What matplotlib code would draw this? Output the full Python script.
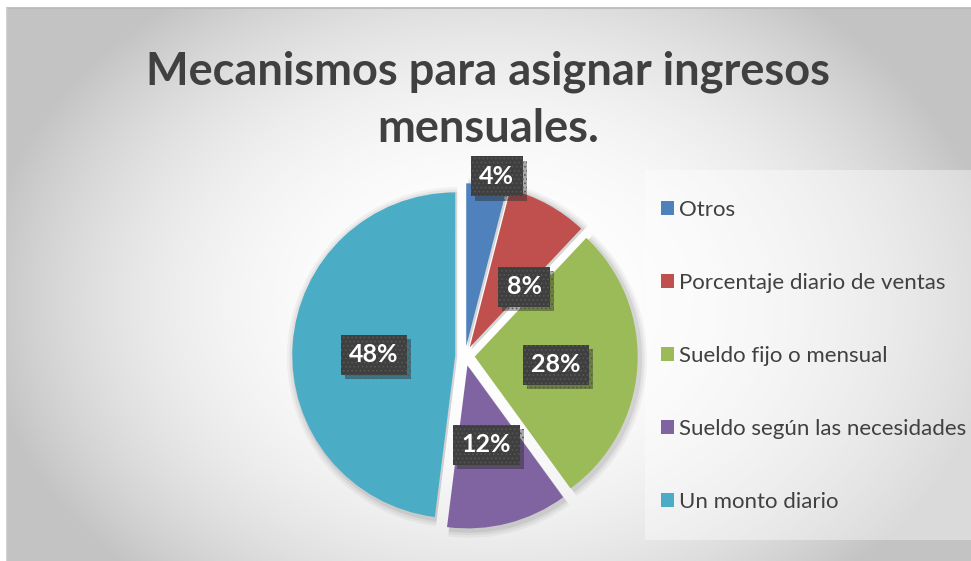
import numpy as np
import matplotlib.pyplot as plt
from matplotlib.patches import Wedge, Rectangle, Patch
import matplotlib.patheffects as pe

plt.rcParams['font.family'] = ['Lato', 'DejaVu Sans']
plt.rcParams['hatch.linewidth'] = 0.7

categorias = ["Otros", "Porcentaje diario de ventas", "Sueldo fijo o mensual",
              "Sueldo según las necesidades", "Un monto diario"]
porcentajes = [4, 8, 28, 12, 48]
colores = ["#4F81BD", "#C0504D", "#9BBB59", "#8064A2", "#4BACC6"]
titulo = "Mecanismos para asignar ingresos\nmensuales."

# donde va cada etiqueta: distancia relativa al radio y giro en grados
dist_etiqueta = [1.06, 0.5, 0.5, 0.5, 0.5]
giro_etiqueta = [-3, -13, -2, -1, 3]

W, H = 971, 561
fig = plt.figure(figsize=(W / 100, H / 100), dpi=100)
fig.patch.set_facecolor("white")

# fondo con degradado desde el centro
bg = fig.add_axes([0, 0, 1, 1])
bg.set_xlim(0, W)
bg.set_ylim(H, 0)
bg.axis("off")
xx, yy = np.meshgrid(np.arange(W), np.arange(H))
cx, cy = 489, 300
t = np.sqrt(((xx - cx) / 482.0) ** 2 + ((yy - cy) / 360.0) ** 2)
v = np.clip(255 - 52 * t ** 2.5, 195, 255) / 255.0
img = np.dstack([v, v, v])
img[:8, :] = 1.0
img[:, :7] = 1.0
bg.imshow(img, extent=(0, W, H, 0), interpolation="bilinear", zorder=0)
bg.plot([7, W], [8, 8], color="#b8b8b8", lw=1.2, zorder=1)
bg.plot([7, 7], [8, H], color="#c8c8c8", lw=1.2, zorder=1)

# panel de la leyenda
bg.add_patch(Rectangle((645, 170), 330, 370, facecolor="white", alpha=0.4,
                       edgecolor="none", zorder=1))

bg.text(488, 100, titulo, ha="center", va="center", fontsize=32.5,
        fontweight="bold", color="#404040", linespacing=1.45, zorder=2)

# torta
ax = fig.add_axes([269.5 / W, (H - 551.5) / H, 391 / W, 391 / H])
ax.axis("off")
ax.patch.set_alpha(0)

explode = [0.06] * len(porcentajes)
wedges, _ = ax.pie(porcentajes, colors=colores, explode=explode, startangle=90,
                   counterclock=False, radius=1.0,
                   wedgeprops=dict(linewidth=0, zorder=3))
ax.set_xlim(-1.2, 1.2)
ax.set_ylim(-1.2, 1.2)
ax.set_aspect("equal")

# sombra suave debajo de cada porción
for w in wedges:
    for k, a in zip([0.045, 0.03, 0.015], [0.04, 0.05, 0.07]):
        sh = Wedge((w.center[0] + 0.012, w.center[1] - 0.012), w.r + k,
                   w.theta1, w.theta2, facecolor="black", alpha=a,
                   edgecolor="none", zorder=2)
        ax.add_patch(sh)

for w, p, d, g in zip(wedges, porcentajes, dist_etiqueta, giro_etiqueta):
    ang = np.deg2rad((w.theta1 + w.theta2) / 2 + g)
    x = w.center[0] + d * w.r * np.cos(ang)
    y = w.center[1] + d * w.r * np.sin(ang)
    txt = ax.text(x, y, f"{p}%", ha="center", va="center", fontsize=18,
                  fontweight="bold", color="white", zorder=6,
                  bbox=dict(boxstyle="square,pad=0.34", facecolor="#3f3f3f",
                            edgecolor="#565656", linewidth=0, hatch="...."))
    txt.get_bbox_patch().set_path_effects(
        [pe.SimplePatchShadow(offset=(3, -3), alpha=0.35), pe.Normal()])

handles = [Patch(facecolor=c, edgecolor="none") for c in colores]
leg = bg.legend(handles, categorias, loc="center left",
                bbox_to_anchor=(652, 356), bbox_transform=bg.transData,
                frameon=False, fontsize=16, labelspacing=2.38,
                handlelength=0.6, handleheight=0.6, handletextpad=0.2,
                borderaxespad=0)
for tx in leg.get_texts():
    tx.set_color("#404040")

fig.savefig("out.png", dpi=100)
